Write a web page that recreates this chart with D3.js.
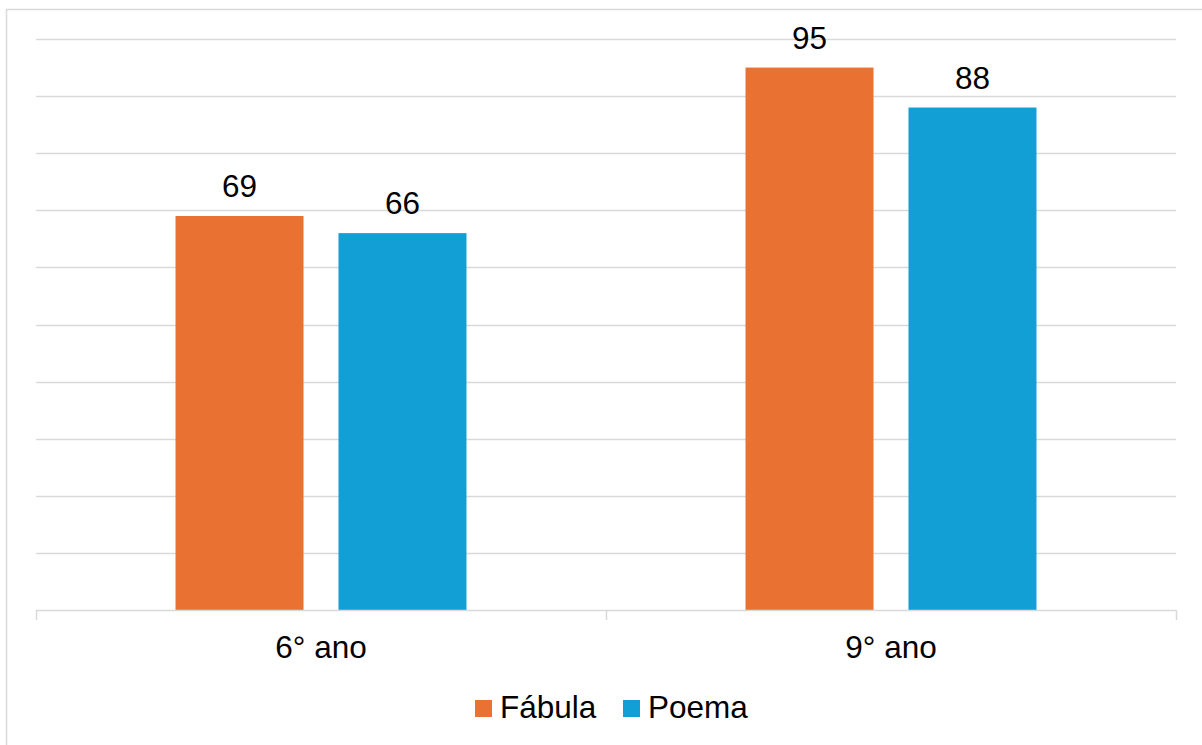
<!DOCTYPE html>
<html>
<head>
<meta charset="utf-8">
<script src="https://cdn.jsdelivr.net/npm/d3@7"></script>
<style>
  html, body { margin: 0; padding: 0; background: #fff; }
  svg { display: block; font-family: "Liberation Sans", Arial, sans-serif; }
</style>
</head>
<body>
<svg id="chart" width="1202" height="745"></svg>
<script>
// Grade groups, series and values
const categories = ["6° ano", "9° ano"];
const seriesNames = ["Fábula", "Poema"];
const fabulaValues = [69, 95];
const poemaValues = [66, 88];
const gridTicks = [0, 10, 20, 30, 40, 50, 60, 70, 80, 90, 100];

const seriesColors = ["#E97132", "#129FD6"];
const seriesValues = [fabulaValues, poemaValues];

const FONT_SIZE = 31.5;

const svg = d3.select("#chart");

// Chart frame
svg.append("rect")
  .attr("x", 6.5).attr("y", 9.5)
  .attr("width", 1202).attr("height", 745)
  .attr("fill", "none").attr("stroke", "#D9D9D9").attr("stroke-width", 1.5);

const plot = { left: 36, right: 1176, top: 39, bottom: 610 };

const x0 = d3.scaleBand()
  .domain(categories)
  .range([plot.left, plot.right])
  .paddingInner(0).paddingOuter(0);

const x1 = d3.scaleBand()
  .domain(seriesNames)
  .range([0, x0.bandwidth()])
  .paddingInner(0.2147)
  .paddingOuter(0.856);

const y = d3.scaleLinear()
  .domain([0, 100])
  .range([plot.bottom, plot.top]);

// Horizontal gridlines
svg.append("g")
  .selectAll("line")
  .data(gridTicks.slice(1))
  .join("line")
  .attr("x1", plot.left).attr("x2", plot.right)
  .attr("y1", d => Math.round(y(d)) + 0.5)
  .attr("y2", d => Math.round(y(d)) + 0.5)
  .attr("stroke", "#D9D9D9").attr("stroke-width", 1.3);

// Bars
const groups = svg.append("g")
  .selectAll("g")
  .data(categories)
  .join("g")
  .attr("transform", d => `translate(${x0(d)},0)`);

const cellData = (c, i) => seriesNames.map((s, j) => ({ s, j, v: seriesValues[j][i] }));

groups.selectAll("rect")
  .data(cellData)
  .join("rect")
  .attr("x", d => x1(d.s))
  .attr("width", x1.bandwidth())
  .attr("y", d => y(d.v))
  .attr("height", d => y(0) - y(d.v))
  .attr("fill", d => seriesColors[d.j]);

// Value labels
groups.selectAll("text")
  .data(cellData)
  .join("text")
  .attr("x", d => x1(d.s) + x1.bandwidth() / 2)
  .attr("y", d => y(d.v) - 19)
  .attr("text-anchor", "middle")
  .attr("font-size", FONT_SIZE)
  .attr("fill", "#000")
  .text(d => d.v);

// Category axis
const xAxis = svg.append("g")
  .attr("transform", `translate(0,${plot.bottom})`);
xAxis.append("line")
  .attr("x1", plot.left).attr("x2", plot.right)
  .attr("y1", 0.5).attr("y2", 0.5)
  .attr("stroke", "#D9D9D9").attr("stroke-width", 1.5);
const tickXs = categories.map(c => x0(c)).concat([x0(categories[categories.length - 1]) + x0.bandwidth()]);
xAxis.selectAll("line.tick")
  .data(tickXs)
  .join("line")
  .attr("class", "tick")
  .attr("x1", d => d + 0.5).attr("x2", d => d + 0.5)
  .attr("y1", 0).attr("y2", 10)
  .attr("stroke", "#D9D9D9").attr("stroke-width", 1.5);
xAxis.selectAll("text")
  .data(categories)
  .join("text")
  .attr("x", d => x0(d) + x0.bandwidth() / 2)
  .attr("y", 48)
  .attr("text-anchor", "middle")
  .attr("font-size", FONT_SIZE)
  .attr("fill", "#000")
  .text(d => d);

// Legend
const legend = svg.append("g");
const legendItems = [
  { name: seriesNames[0], color: seriesColors[0], x: 475 },
  { name: seriesNames[1], color: seriesColors[1], x: 623 }
];
legendItems.forEach(item => {
  legend.append("rect")
    .attr("x", item.x).attr("y", 700)
    .attr("width", 17).attr("height", 17)
    .attr("fill", item.color);
  legend.append("text")
    .attr("x", item.x + 25).attr("y", 718)
    .attr("font-size", FONT_SIZE)
    .attr("fill", "#000")
    .text(item.name);
});
</script>
</body>
</html>
